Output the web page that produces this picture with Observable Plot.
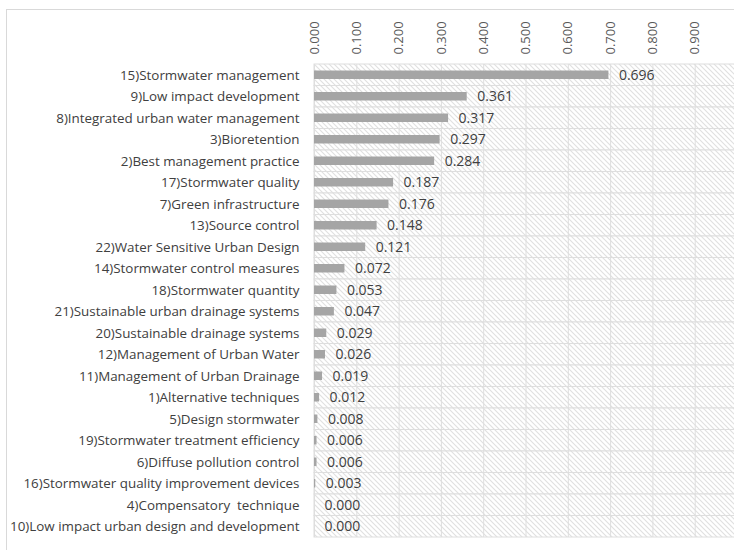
<!DOCTYPE html>
<html>
<head>
<meta charset="utf-8">
<script src="https://cdn.jsdelivr.net/npm/d3@7"></script>
<script src="https://cdn.jsdelivr.net/npm/@observablehq/plot@0.6"></script>
<style>
  html, body { margin: 0; padding: 0; background: #fff; overflow: hidden; }
  #frame { position: absolute; left: 6px; top: 9px; width: 760px; height: 600px; border: 1px solid #d9d9d9; box-sizing: border-box; }
  #chart { position: absolute; left: 0; top: 0; }
</style>
</head>
<body>
<div id="frame"></div>
<div id="chart"></div>
<script>
const categories = [
  "15)Stormwater management",
  "9)Low impact development",
  "8)Integrated urban water management",
  "3)Bioretention",
  "2)Best management practice",
  "17)Stormwater quality",
  "7)Green infrastructure",
  "13)Source control",
  "22)Water Sensitive Urban Design",
  "14)Stormwater control measures",
  "18)Stormwater quantity",
  "21)Sustainable urban drainage systems",
  "20)Sustainable drainage systems",
  "12)Management of Urban Water",
  "11)Management of Urban Drainage",
  "1)Alternative techniques",
  "5)Design stormwater",
  "19)Stormwater treatment efficiency",
  "6)Diffuse pollution control",
  "16)Stormwater quality improvement devices",
  "4)Compensatory\u00a0 technique",
  "10)Low impact urban design and development"
];
const values = [0.696, 0.361, 0.317, 0.297, 0.284, 0.187, 0.176, 0.148, 0.121, 0.072,
  0.053, 0.047, 0.029, 0.026, 0.019, 0.012, 0.008, 0.006, 0.006, 0.003, 0.000, 0.000];
const xTicks = [0, 0.1, 0.2, 0.3, 0.4, 0.5, 0.6, 0.7, 0.8, 0.9];
const xDomain = [0, 1];

const data = categories.map((c, i) => ({category: c, value: values[i]}));

const chart = Plot.plot({
  width: 734,
  height: 550,
  marginTop: 64,
  marginBottom: 13,
  marginLeft: 314,
  marginRight: 0,
  style: {fontFamily: "'Open Sans', sans-serif", background: "transparent"},
  x: {domain: xDomain, range: [314, 737], label: null},
  y: {domain: categories, padding: 0, round: false, label: null},
  marks: [
    Plot.barX(categories, {x1: xDomain[0], x2: xDomain[1], y: d => d, fill: "url(#hatch)", stroke: "#dedede", strokeWidth: 1}),
    Plot.ruleX(xTicks, {stroke: "#dedede"}),
    Plot.barX(data, {x: "value", y: "category", fill: "#a5a5a5", insetTop: 6.5, insetBottom: 6.5}),
    Plot.text(data, {x: "value", y: "category", text: d => d.value.toFixed(3), textAnchor: "start", dx: 10, fontSize: 14, fill: "#404040"}),
    Plot.axisX({ticks: xTicks, anchor: "top", label: null, tickRotate: -90, tickFormat: d => d.toFixed(3), tickSize: 0, tickPadding: 10, fontSize: 13, color: "#595959"}),
    Plot.axisY({label: null, tickSize: 0, tickPadding: 15, fontSize: 13.4, color: "#404040"})
  ]
});

const svg = d3.select(chart);
const defs = svg.insert("defs", ":first-child");
const pat = defs.append("pattern")
  .attr("id", "hatch")
  .attr("patternUnits", "userSpaceOnUse")
  .attr("width", 5)
  .attr("height", 5);
pat.append("rect").attr("width", 5).attr("height", 5).attr("fill", "#ffffff");
pat.append("path")
  .attr("d", "M-1,-1L6,6M-1,4L1,6M4,-1L6,1")
  .attr("stroke", "#e0e0e0")
  .attr("stroke-width", 1.1);

document.getElementById("chart").appendChild(chart);
</script>
</body>
</html>
